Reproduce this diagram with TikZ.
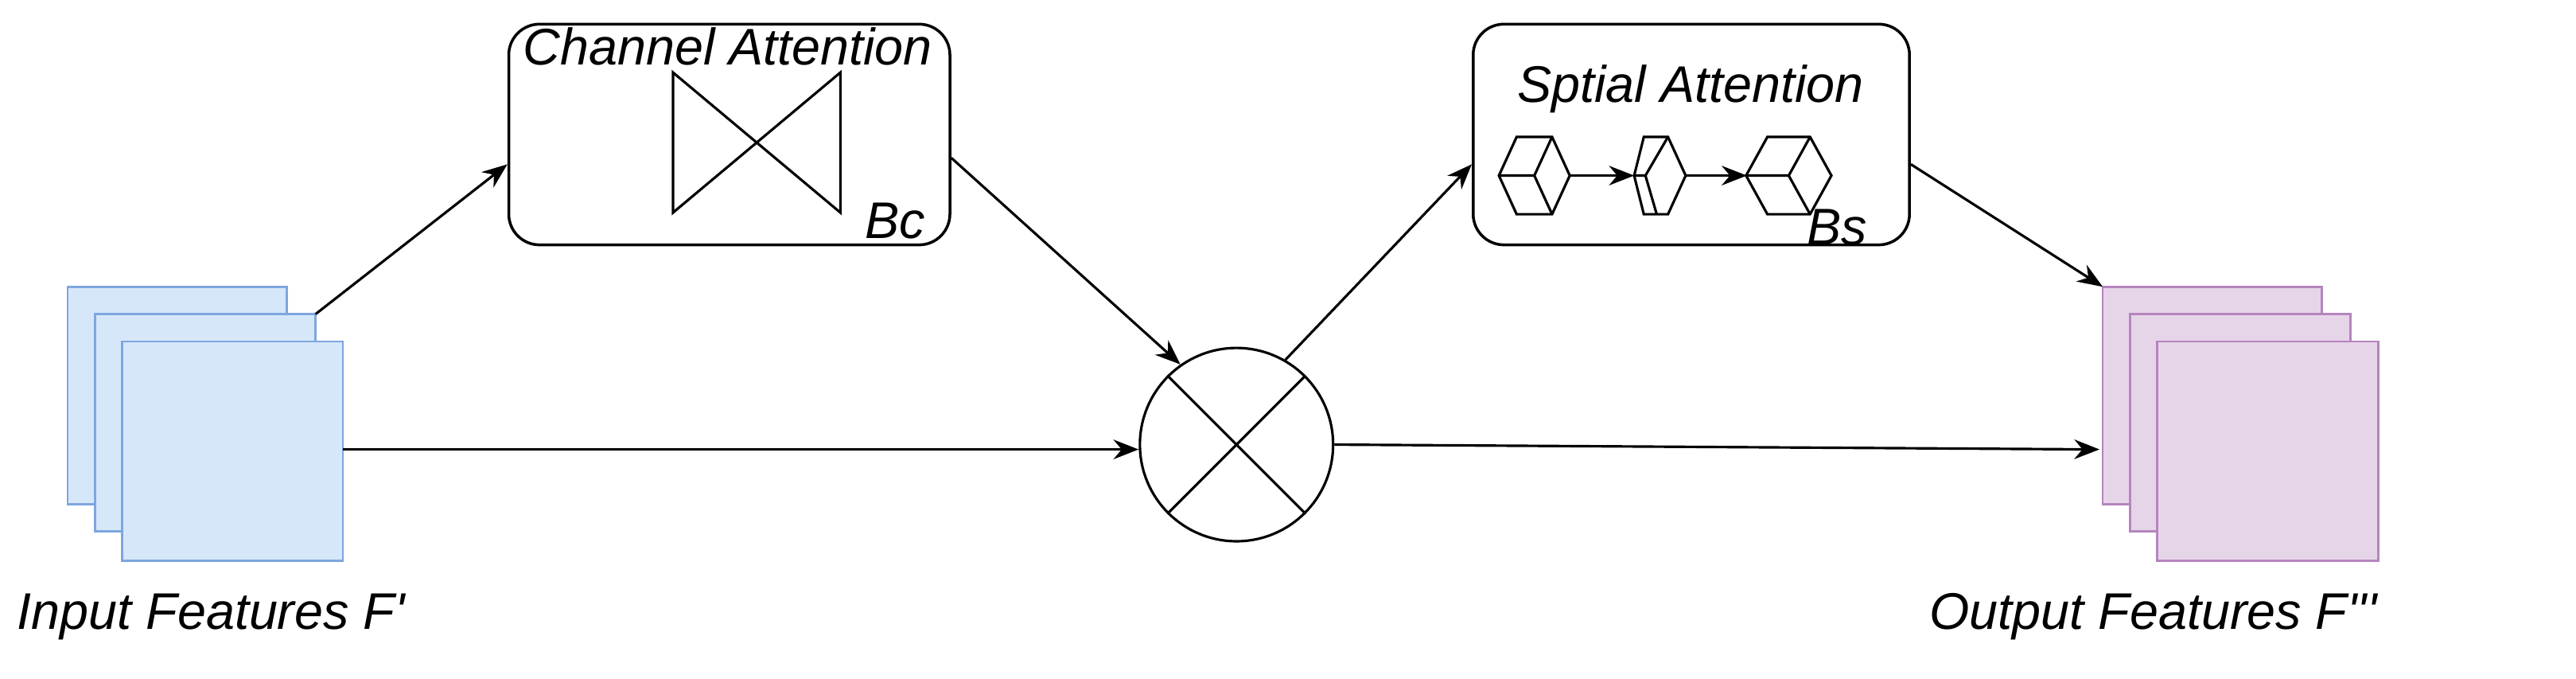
\documentclass[tikz,border=0pt]{standalone}
\usepackage{fontspec}
\setmainfont{Liberation Sans}
\usetikzlibrary{arrows.meta}
\begin{document}
\begin{tikzpicture}[x=0.02024cm,y=-0.02024cm,
  line width=0.9pt,
  lbl/.style={font=\fontsize{18.4pt}{20pt}\selectfont\itshape, inner sep=0},
  arr/.style={-{Stealth[length=9pt,width=7pt]}},
  box/.style={draw, rounded corners=11pt, line width=1pt, inner sep=0}]
\useasboundingbox (0,0) rectangle (1600,421.5);
\definecolor{inF}{HTML}{D7E7FA}\definecolor{inD}{HTML}{7EA6E0}
\definecolor{outF}{HTML}{E6D5E8}\definecolor{outD}{HTML}{B585BE}
\tikzset{fin/.style={draw=inD,fill=inF,line width=0.8pt},fout/.style={draw=outD,fill=outF,line width=0.8pt}}
% input features
\draw[fin] (42,178) rectangle (178,313);
\draw[fin] (59,195) rectangle (196,330);
\draw[fin] (76,212) rectangle (213,348);
\coordinate (iback) at (196,195);
\coordinate (ifront) at (213,279);
% output features
\draw[fout] (1306,178) rectangle (1442,313);
\draw[fout] (1323,195) rectangle (1460,330);
\draw[fout] (1340,212) rectangle (1477,348);
\coordinate (oback) at (1306,178);
\coordinate (oleft) at (1304,279);
% boxes
\node[box,minimum width=274*0.02024cm,minimum height=137*0.02024cm] (cb) at (453,83.5) {};
\node[box,minimum width=271*0.02024cm,minimum height=137*0.02024cm] (sb) at (1050.5,83.5) {};
\node[lbl] (ct) at (452,29) {Channel Attention};
\node[lbl] (st) at (1050,55) {Sptial Attention};
\node[lbl] (bc) at (556,137) {Bc};
\node[lbl] (bs) at (1141,141) {Bs};
% bowtie
\draw (418,45) -- (522,132) -- (522,45) -- (418,132) -- cycle;
% cubes
\newcommand{\mycube}[3]{% cx cy w
  \draw (#1-#3/2,#2) -- (#1-#3/4,#2-24) -- (#1+#3/4,#2-24) -- (#1+#3/2,#2) -- (#1+#3/4,#2+24) -- (#1-#3/4,#2+24) -- cycle;
  \draw (#1-#3/2,#2) -- (#1,#2) -- (#1+#3/4,#2-24) (#1,#2) -- (#1+#3/4,#2+24);}
\mycube{953}{109}{44}
\draw (1015,109) -- (1021,85) -- (1036,85) -- (1047,109) -- (1036,133) -- (1021,133) -- cycle;
\draw (1015,109) -- (1022,109) -- (1029,133) (1022,109) -- (1036,85);
\mycube{1111}{109}{53}
\coordinate (c1r) at (975,109); \coordinate (c2l) at (1015,109);
\coordinate (c2r) at (1047,109); \coordinate (c3l) at (1085,109);
\draw[arr,line width=0.8pt] (c1r) -- (c2l);
\draw[arr,line width=0.8pt] (c2r) -- (c3l);
% multiply
\node[draw,circle,minimum size=120*0.02024cm,inner sep=0] (m) at (768,276) {};
\draw (m.45) -- (m.225) (m.135) -- (m.315);
% connectors
\draw[arr] (iback) -- (cb.west |- 0,102);
\draw[arr] (cb.east |- 0,98) -- (m.125);
\draw[arr] (ifront) -- (ifront -| m.west);
\draw[arr] (m.60) -- (sb.west |- 0,102);
\draw[arr] (sb.east |- 0,102) -- (oback);
\draw[arr] (m.east) -- (oleft);
% labels
\node[lbl,anchor=west] (il) at (10,383) {Input Features F\textquotesingle};
\node[lbl,anchor=east] (ol) at (1477,383) {Output Features F\textquotesingle\textquotesingle\textquotesingle};
\end{tikzpicture}
\end{document}
